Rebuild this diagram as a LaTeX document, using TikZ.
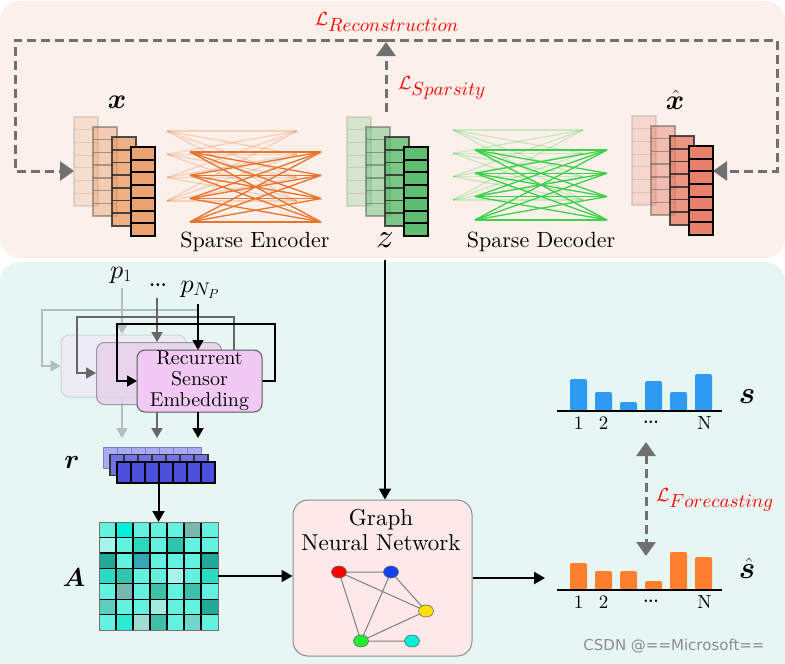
\documentclass[tikz,border=0pt]{standalone}
\usepackage{fontspec}
\usepackage{amsmath,bm}
\usetikzlibrary{arrows.meta,calc,shapes.geometric}
\setmainfont{lmroman10-regular}[Extension=.otf, BoldFont=lmroman10-bold, ItalicFont=lmroman10-italic, BoldItalicFont=lmroman10-bolditalic]
\DeclareFontShape{OML}{cmm}{m}{it}{<->cmmi10}{}
\DeclareFontShape{OML}{cmm}{b}{it}{<->cmmib10}{}
\DeclareFontShape{OMS}{cmsy}{m}{n}{<->cmsy10}{}
\newfontfamily\wmfont{DejaVu Sans}
\definecolor{peach}{HTML}{FBF0EA}
\definecolor{mint}{HTML}{E6F6F2}
\definecolor{lossgray}{HTML}{707070}
\definecolor{xorange}{HTML}{EBA26E}
\definecolor{zgreen}{HTML}{5CBE6E}
\definecolor{xhred}{HTML}{E8806A}
\definecolor{encorange}{HTML}{E8732C}
\definecolor{decgreen}{HTML}{3DD14B}
\definecolor{rseF}{HTML}{F2C9F4}
\definecolor{rseM}{HTML}{E6D2EC}
\definecolor{rseL}{HTML}{ECEBF6}
\definecolor{rseLb}{HTML}{D2D2DE}
\definecolor{lightarr}{HTML}{B5BEBC}
\definecolor{midarr}{HTML}{666666}
\definecolor{rL}{HTML}{A7AAF0}
\definecolor{rLb}{HTML}{7A80C8}
\definecolor{rM}{HTML}{6E72E4}
\definecolor{rblue}{HTML}{4B50DC}
\definecolor{gnnpink}{HTML}{FDE9EA}
\definecolor{sblue}{HTML}{2E9BF2}
\definecolor{shorange}{HTML}{FF7F2F}
\definecolor{gred}{HTML}{FF0000}
\definecolor{gblue}{HTML}{1440F0}
\definecolor{gyellow}{HTML}{FFE000}
\definecolor{ggreen}{HTML}{22EE33}
\definecolor{gcyan}{HTML}{00F0D8}
\definecolor{aB}{HTML}{62F2DF}
\definecolor{aQ}{HTML}{00F0DA}
\definecolor{aG}{HTML}{78B8AE}
\definecolor{aP}{HTML}{A8F4EA}
\definecolor{aM}{HTML}{2ED6BE}
\definecolor{aN}{HTML}{2EC4AE}
\definecolor{aD}{HTML}{22AA98}
\definecolor{aT}{HTML}{35A8B6}
\definecolor{aE}{HTML}{2ADCC6}
\definecolor{aK}{HTML}{3EBFA9}
\definecolor{aL}{HTML}{5CCFBF}
\definecolor{aH}{HTML}{A6EBE0}
\definecolor{aR}{HTML}{9FDDD4}
\definecolor{aS}{HTML}{6FD6C9}
\definecolor{aF}{HTML}{2DEAD2}
\newcommand\cellstack[3]{%
  \foreach \k/\op/\bc/\lw in {0/0.22/gray/1.2,1/0.45/black!70/1.4,2/0.8/black!85/1.6,3/1/black/2}{
    \fill[#3, opacity=\op] (#1+19*\k, #2+10*\k) rectangle ++(24,89);
    \foreach \j in {1,...,6}
      \draw[\bc, opacity=\op, line width=\lw pt] (#1+19*\k, #2+10*\k+\j*89/7) -- ++(24,0);
    \draw[\bc, opacity=\op, line width=\lw pt] (#1+19*\k, #2+10*\k) rectangle ++(24,89);
  }}
\newcommand\bipart[5]{%
  \foreach \a in {0,...,3}{\foreach \b in {0,...,3}{
    \draw[#4, opacity=#5, line width=1.3pt] (#1, #3+23.3*\a) -- (#2, #3+23.3*\b);}}}
\tikzset{
  lbl/.style={inner sep=0pt, outer sep=0pt},
  loss/.style={draw=lossgray, line width=3pt, dash pattern=on 9pt off 5pt},
  losstip/.style={-{Triangle[length=14pt,width=19pt]}},
  arr/.style={line width=2pt, -{Triangle[length=11pt,width=12pt]}},
  thinarr/.style={line width=1.8pt, -{Triangle[length=10pt,width=11pt]}},
  rsebox/.style={rounded corners=8pt, minimum width=125pt, minimum height=62pt, inner sep=0pt},
  gnode/.style={ellipse, draw=black!60, line width=0.6pt, minimum width=15pt, minimum height=12pt, inner sep=0pt},
  gedge/.style={draw=black!50, line width=1pt},
  losslbl/.style={lbl, text=red, font=\fontsize{19}{21}\selectfont},
  sym/.style={lbl, font=\fontsize{28}{30}\selectfont},
  axlbl/.style={lbl, font=\fontsize{19}{21}\selectfont, anchor=base},
}
\begin{document}
\begin{tikzpicture}[x=1pt,y=-1pt]
\clip (0,0) rectangle (785,664);
\fill[white] (0,0) rectangle (785,664);
\fill[peach, rounded corners=20] (0,1) rectangle (785,258);
\fill[mint, rounded corners=20] (0,262) rectangle (785,700);

% ---------- autoencoder ----------
\bipart{167}{297}{131}{encorange}{0.25}
\bipart{190}{321}{152}{encorange}{1}
\bipart{453}{583}{130}{decgreen}{0.25}
\bipart{475}{607}{150}{decgreen}{1}
\cellstack{74}{117}{xorange}
\cellstack{347}{117}{zgreen}
\cellstack{632}{116}{xhred}

\node[sym] (xlab) at (117,102) {$\bm{x}$};
\node[sym, font=\fontsize{34}{36}\selectfont] (zlab) at (385,240) {$z$};
\node[sym] (xhlab) at (675,100) {$\hat{\bm{x}}$};
\node[lbl, font=\fontsize{22}{24}\selectfont] (enc) at (255,242) {Sparse Encoder};
\node[lbl, font=\fontsize{22}{24}\selectfont] (dec) at (541,242) {Sparse Decoder};

\node[losslbl] (lrec) at (387,22) {$\mathcal{L}_{\textstyle Reconstruction}$};
\node[losslbl] (lspa) at (442,88) {$\mathcal{L}_{\textstyle Sparsity}$};

\coordinate (top) at (386,40);
\coordinate (xin) at (74,171);
\coordinate (xhin) at (713,171);
\coordinate (zup) at (386,112);
\coordinate (sparTop) at (386,42);
\draw[loss, losstip] (top) -| (15,171) -- (xin);
\draw[loss, losstip] (top) -| (777,171) -- (xhin);
\draw[loss, losstip] (zup) -- (sparTop);

% ---------- recurrent sensor embedding ----------
\node[lbl, font=\fontsize{26}{28}\selectfont, anchor=base] (p1) at (121,278) {$p_1$};
\node[lbl, font=\bfseries\fontsize{18}{20}\selectfont] (pdots) at (158,285) {...};
\node[lbl, font=\fontsize{26}{28}\selectfont, anchor=base] (pN) at (200,292) {$p_{N_P}$};

\node[rsebox, fill=rseL, draw=rseLb, line width=1pt] (boxL) at (123.5,366) {};
\draw[lightarr, line width=1.8pt, -{Triangle[length=10pt,width=11pt]}] (boxL.east) -- (198,366) -- (198,310) -- (42,310) -- (42,366) -- (boxL.west);
\draw[lightarr, thinarr] (122,288) -- (122,334);
\draw[lightarr, thinarr] (122,397) -- (122,438);

\draw[midarr, thinarr] (222,373) -- (234,373) -- (234,317) -- (77,317) -- (77,373) -- (96,373);
\node[rsebox, fill=rseM, fill opacity=0.85, draw=black!40, line width=1pt] (boxM) at (159,373.5) {};
\draw[midarr, thinarr] (157,298) -- (157,342);
\draw[midarr, thinarr] (157,405) -- (157,438);

\draw[black, thinarr] (262,381) -- (275,381) -- (275,324) -- (117,324) -- (117,381) -- (137,381);
\node[rsebox, fill=rseF, draw=black!65, line width=1pt, align=center, font=\fontsize{20}{21}\selectfont] (boxF) at (199.5,381) {Recurrent\\Sensor\\Embedding};
\draw[black, thinarr] (198,304) -- (198,350);
\draw[black, thinarr] (198,412) -- (198,438);

% r stack
\foreach \k/\col/\bc/\lw in {0/rL/rLb/1,1/rM/black!80/1.3,2/rblue/black/2}{
  \fill[\col] (103+7*\k, 447+7.5*\k) rectangle ++(98,21);
  \foreach \j in {1,...,6}
    \draw[\bc, line width=\lw pt] (103+7*\k+14*\j, 447+7.5*\k) -- ++(0,21);
  \draw[\bc, line width=\lw pt] (103+7*\k, 447+7.5*\k) rectangle ++(98,21);
}
\node[lbl, minimum width=98pt, minimum height=21pt, anchor=north west] (rfront) at (117,462) {};
\node[sym, font=\fontsize{27}{29}\selectfont] (rlab) at (72,462) {$\bm{r}$};

% A matrix
\node[lbl, minimum width=119pt, minimum height=108pt] (Amat) at (158.5,576) {};
\foreach \rowc [count=\r from 0] in {
  {aB,aQ,aB,aB,aB,aG,aB},
  {aP,aB,aM,aB,aN,aB,aB},
  {aD,aB,aT,aB,aB,aB,aD},
  {aE,aN,aB,aB,aP,aB,aE},
  {aB,aG,aB,aK,aB,aK,aB},
  {aL,aB,aB,aH,aB,aB,aD},
  {aB,aF,aR,aK,aB,aS,aB}}{
  \foreach \c [count=\q from 0] in \rowc
    \fill[\c] (99+17*\q, 522+15.43*\r) rectangle ++(17,15.43);
}
\foreach \i in {1,...,6}{
  \draw[black, line width=1.3pt] (99+17*\i,522) -- (99+17*\i,630);
  \draw[black, line width=1.3pt] (99,522+15.43*\i) -- (218,522+15.43*\i);
}
\draw[black!55, line width=1pt] (99,522) rectangle (218,630);
\node[sym, font=\fontsize{26}{28}\selectfont] (Alab) at (74,578) {$\bm{A}$};
\draw[arr] (rfront.south -| Amat.north) -- (Amat.north);

% GNN
\node[draw=black!45, fill=gnnpink, rounded corners=15pt, minimum width=179pt, minimum height=156pt, line width=1pt] (gnn) at (382.5,578) {};
\node[lbl, font=\fontsize{23}{25}\selectfont, align=center, anchor=north] (gnnt) at (381,509) {Graph\\Neural Network};
\coordinate (g1) at (339,572);
\coordinate (g2) at (391,572);
\coordinate (g3) at (426,611);
\coordinate (g4) at (361,641);
\coordinate (g5) at (412,641);
\draw[gedge] (g1) -- (g2) (g1) -- (g3) (g1) -- (g4) (g2) -- (g4) (g2) -- (g3) (g3) -- (g4) (g4) -- (g5);
\node[gnode, fill=gred] (n1) at (g1) {};
\node[gnode, fill=gblue] (n2) at (g2) {};
\node[gnode, fill=gyellow] (n3) at (g3) {};
\node[gnode, fill=ggreen] (n4) at (g4) {};
\node[gnode, fill=gcyan] (n5) at (g5) {};

\draw[arr] (Amat.east) -- (Amat.east -| gnn.west);
\coordinate (zdown) at (385,260);
\draw[arr] (zdown) -- (zdown |- gnn.north);
\coordinate (shin) at (545,578);
\draw[arr] (gnn.east |- shin) -- (shin);

% bar charts
\foreach \i/\t in {0/379,1/392,2/402,3/381,4/392,5/374}
  \fill[sblue, rounded corners=2pt] (570+25*\i,411) rectangle (587+25*\i,\t);
\foreach \i/\t in {0/563,1/571,2/571,3/581,4/552,5/557}
  \fill[shorange, rounded corners=2pt] (570+25*\i,590) rectangle (587+25*\i,\t);
\draw[black, line width=1.5pt] (557,411) -- (722,411);
\draw[black, line width=1.5pt] (557,590) -- (722,590);
\foreach \yb/\yd/\nm in {429/422/s,608/601/h}{
  \node[axlbl] (\nm one) at (578.5,\yb) {1};
  \node[axlbl] (\nm two) at (603.5,\yb) {2};
  \node[lbl, font=\bfseries\fontsize{16}{18}\selectfont] (\nm dots) at (651,\yd) {...};
  \node[axlbl] (\nm N) at (704.5,\yb) {N};
}
\node[sym, font=\fontsize{31}{33}\selectfont] (slab) at (747,397) {$\bm{s}$};
\node[sym, font=\fontsize{31}{33}\selectfont] (shlab) at (747,568) {$\hat{\bm{s}}$};

\coordinate (fcT) at (646,442);
\coordinate (fcB) at (646,556);
\draw[loss, {Triangle[length=14pt,width=19pt]}-{Triangle[length=14pt,width=19pt]}] (fcT) -- (fcB);
\node[losslbl] (lfc) at (715,500) {$\mathcal{L}_{\textstyle Forecasting}$};

\node[lbl, text=black!45, font=\wmfont\fontsize{15}{17}\selectfont] (wm) at (674,646) {CSDN @==Microsoft==};
\end{tikzpicture}
\end{document}
